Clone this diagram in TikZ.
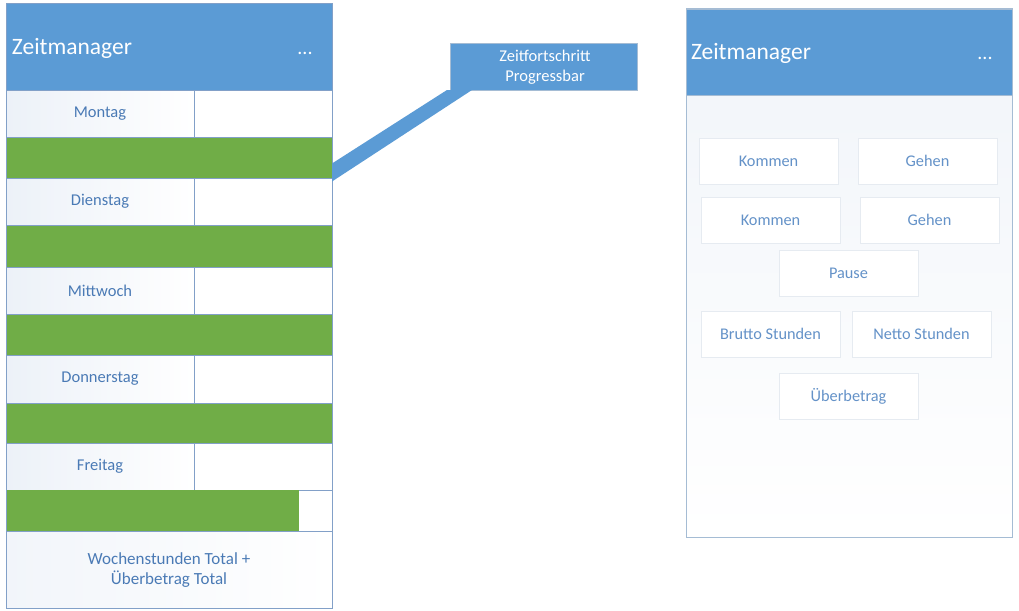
\documentclass[tikz,border=0pt]{standalone}
\usepackage{fontspec}
\setmainfont{Carlito}
\usetikzlibrary{calc}
\definecolor{hdrblue}{RGB}{91,155,213}
\definecolor{barblue}{RGB}{91,155,213}
\definecolor{bargreen}{RGB}{112,173,71}
\definecolor{txtblue}{RGB}{74,122,181}
\definecolor{btntxt}{RGB}{100,146,200}
\definecolor{frameL}{RGB}{130,160,200}
\definecolor{frameR}{RGB}{165,188,212}
\definecolor{btnline}{RGB}{230,235,241}
\definecolor{cellshade}{RGB}{236,241,248}
\definecolor{panelshade}{RGB}{240,244,249}
\begin{document}
\begin{tikzpicture}[x=1pt,y=-1pt,
  every node/.style={inner sep=0pt, outer sep=0pt},
  hdr/.style={fill=hdrblue, draw=frameR, line width=0.6pt},
  title/.style={text=white, font=\fontsize{23.5}{27}\selectfont, anchor=west},
  dots/.style={text=white, font=\fontsize{20}{22}\selectfont},
  daycell/.style={draw=frameL, line width=0.6pt, left color=cellshade, right color=white, text=txtblue, font=\fontsize{16.5}{19}\selectfont},
  emptycell/.style={draw=frameL, line width=0.6pt, fill=white},
  greenbar/.style={fill=bargreen, draw=frameL, line width=0.4pt},
  btn/.style={draw=btnline, line width=0.8pt, fill=white, text=btntxt, font=\fontsize{16.3}{19}\selectfont, minimum width=139pt, minimum height=46pt},
  callout/.style={fill=barblue, draw=frameR, line width=0.6pt}
]
\useasboundingbox (0,0) rectangle (1019,610);
\fill[white] (0,0) rectangle (1019,610);

% ---------- left panel ----------
\node[draw=frameL, line width=0.8pt, fill=white, minimum width=326pt, minimum height=605pt, anchor=north west] (lp) at (6,3) {};
\node[hdr, minimum width=326pt, minimum height=87pt, anchor=north west] (lh) at (6,3) {};
\node[title] (lt) at (12,48) {Zeitmanager};
\node[dots] (ld) at (305,53) {...};

\node[daycell, minimum width=188pt, minimum height=47pt, anchor=north west] (mo) at (6,90) {Montag};
\node[emptycell, minimum width=138pt, minimum height=47pt, anchor=north west] (moR) at (194,90) {};
\node[greenbar, minimum width=326pt, minimum height=41pt, anchor=north west] (g1) at (6,137) {};

\node[daycell, minimum width=188pt, minimum height=47pt, anchor=north west] (di) at (6,178) {Dienstag};
\node[emptycell, minimum width=138pt, minimum height=47pt, anchor=north west] (diR) at (194,178) {};
\node[greenbar, minimum width=326pt, minimum height=42pt, anchor=north west] (g2) at (6,225) {};

\node[daycell, minimum width=188pt, minimum height=47pt, anchor=north west] (mi) at (6,267) {Mittwoch};
\node[emptycell, minimum width=138pt, minimum height=47pt, anchor=north west] (miR) at (194,267) {};
\node[greenbar, minimum width=326pt, minimum height=41pt, anchor=north west] (g3) at (6,314) {};

\node[daycell, minimum width=188pt, minimum height=48pt, anchor=north west] (do) at (6,355) {Donnerstag};
\node[emptycell, minimum width=138pt, minimum height=48pt, anchor=north west] (doR) at (194,355) {};
\node[greenbar, minimum width=326pt, minimum height=40pt, anchor=north west] (g4) at (6,403) {};

\node[daycell, minimum width=188pt, minimum height=47pt, anchor=north west] (fr) at (6,443) {Freitag};
\node[emptycell, minimum width=138pt, minimum height=47pt, anchor=north west] (frR) at (194,443) {};
\node[fill=bargreen, minimum width=293pt, minimum height=41pt, anchor=north west] (g5) at (6,490) {};

\node[draw=frameL, line width=0.6pt, left color=cellshade!70, right color=white, minimum width=326pt, minimum height=77pt, anchor=north west] (tot) at (6,531) {};
\node[text=txtblue, font=\fontsize{17}{20}\selectfont, align=center] (totT) at (169,570) {Wochenstunden Total +\\Überbetrag Total};
\draw[frameL, line width=0.8pt] (lp.north west) rectangle (lp.south east);

% ---------- callout ----------
\node[callout, minimum width=187pt, minimum height=47pt, anchor=north west] (cb) at (450,43) {};
\node[text=white, font=\fontsize{16.5}{20}\selectfont, align=center] (cbT) at (545,67) {Zeitfortschritt\\Progressbar};
\coordinate (cA) at ($(cb.south west)+(-3,0)$);
\coordinate (cB) at ($(cb.south west)+(22,0)$);
\coordinate (lA) at ($(g1.east)+(0,6)$);
\coordinate (lB) at ($(g1.east)+(0,24)$);
\fill[barblue] (lA) -- (cA) -- (cB) -- (lB) -- cycle;

% ---------- right panel ----------
\node[draw=frameR, line width=1pt, top color=panelshade, bottom color=white, minimum width=326pt, minimum height=528pt, anchor=north west] (rp) at (686,9) {};
\node[hdr, minimum width=326pt, minimum height=86pt, anchor=north west] (rh) at (686,9) {};
\node[title] (rt) at (691,53) {Zeitmanager};
\node[dots] (rd) at (985,58) {...};

\node[btn, anchor=north west] (k1) at (699,138) {Kommen};
\node[btn, anchor=north west] (ge1) at (858,138) {Gehen};
\node[btn, anchor=north west] (k2) at (701,197) {Kommen};
\node[btn, anchor=north west] (ge2) at (860,197) {Gehen};
\node[btn, anchor=north west] (pa) at (779,250) {Pause};
\node[btn, anchor=north west] (bs) at (701,311) {Brutto Stunden};
\node[btn, anchor=north west] (ns) at (852,311) {Netto Stunden};
\node[btn, anchor=north west] (ub) at (779,373) {Überbetrag};
\end{tikzpicture}
\end{document}
